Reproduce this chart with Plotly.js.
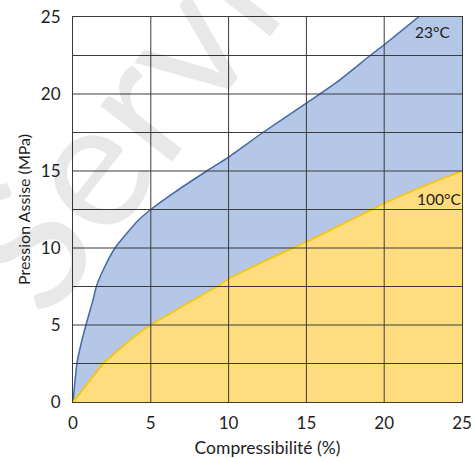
<!DOCTYPE html>
<html>
<head>
<meta charset="utf-8">
<script src="https://cdn.plot.ly/plotly-3.0.1.min.js"></script>
<style>html,body{margin:0;padding:0;background:#fff;}#chart{width:475px;height:459px;}</style>
</head>
<body>
<div id="chart"></div>
<script>
const compress23 = [0, 0.25, 0.5, 0.83, 1.28, 1.5, 2, 2.7, 3.5, 4.2, 5, 6.5, 8.6, 10, 12.2, 15, 17, 19.1, 20, 22.2, 25];
const pression23 = [0, 2.5, 3.7, 5, 6.6, 7.5, 8.7, 10, 11, 11.8, 12.5, 13.6, 15, 15.9, 17.5, 19.4, 20.8, 22.5, 23.2, 25, 27.3];
const compress100 = [0, 1, 1.95, 3, 4, 5, 6, 7.5, 9.25, 10, 12, 14.1, 15, 17, 19.2, 20, 22.5, 25];
const pression100 = [0, 1.3, 2.5, 3.45, 4.3, 5, 5.6, 6.5, 7.5, 8, 9, 10, 10.4, 11.4, 12.5, 12.9, 14, 15];
const tickVals = [0, 5, 10, 15, 20, 25];
const gridX = [5, 10, 15, 20];
const gridY = [2.5, 5, 7.5, 10, 12.5, 15, 17.5, 20, 22.5];
const seriesNames = ['23°C', '100°C'];
const watermark = 'Servi';

const font = 'Lato, "Open Sans", sans-serif';
const gridColor = '#3a3a3a';
const textColor = '#1e1e1e';

const traces = [
  {
    x: compress23, y: pression23, type: 'scatter', mode: 'lines', name: seriesNames[0],
    line: {color: '#4468a8', width: 1.5, shape: 'spline', smoothing: 0.5},
    fill: 'tozeroy', fillcolor: '#b4c7e7'
  },
  {
    x: compress100, y: pression100, type: 'scatter', mode: 'lines', name: seriesNames[1],
    line: {color: '#f2c61f', width: 2, shape: 'spline', smoothing: 0.5},
    fill: 'tozeroy', fillcolor: '#ffdc7e'
  }
];

const shapes = [];
gridX.forEach(v => shapes.push({type: 'line', xref: 'x', yref: 'paper', x0: v, x1: v, y0: 0, y1: 1,
  line: {color: gridColor, width: 1}, layer: 'above'}));
gridY.forEach(v => shapes.push({type: 'line', xref: 'paper', yref: 'y', x0: 0, x1: 1, y0: v, y1: v,
  line: {color: gridColor, width: 1}, layer: 'above'}));

const layout = {
  width: 475, height: 459,
  margin: {l: 73, r: 13, t: 17, b: 57},
  paper_bgcolor: '#ffffff', plot_bgcolor: '#ffffff',
  showlegend: false,
  font: {family: font, size: 16, color: textColor},
  xaxis: {
    range: [0, 25], tickvals: tickVals, ticktext: tickVals.map(String),
    showgrid: false, zeroline: false, showline: true, linecolor: gridColor, linewidth: 1, mirror: true,
    ticks: '', layer: 'above traces', ticklabelstandoff: 6,
    tickfont: {family: font, size: 17, color: textColor},
    title: {text: 'Compressibilité (%)', font: {family: font, size: 17.5, color: textColor}, standoff: 9}
  },
  yaxis: {
    range: [0, 25], tickvals: tickVals, ticktext: tickVals.map(String),
    showgrid: false, zeroline: false, showline: true, linecolor: gridColor, linewidth: 1, mirror: true,
    ticks: '', layer: 'above traces', ticklabelstandoff: 8,
    tickfont: {family: font, size: 17, color: textColor},
    title: {text: 'Pression Assise (MPa)', font: {family: font, size: 16, color: textColor}, standoff: 6}
  },
  shapes: shapes,
  annotations: [
    {x: 23.1, y: 24.0, xref: 'x', yref: 'y', text: seriesNames[0], showarrow: false,
     font: {family: font, size: 15.5, color: textColor}},
    {x: 23.5, y: 13.2, xref: 'x', yref: 'y', text: seriesNames[1], showarrow: false,
     font: {family: font, size: 15.5, color: textColor}},
    {x: 0.1, y: 0.72, xref: 'paper', yref: 'paper', xanchor: 'center', yanchor: 'middle',
     text: watermark, showarrow: false, textangle: -52,
     font: {family: font, size: 180, color: 'rgba(0,0,0,0.09)'}}
  ]
};

Plotly.newPlot('chart', traces, layout, {displayModeBar: false, staticPlot: true});
</script>
</body>
</html>
